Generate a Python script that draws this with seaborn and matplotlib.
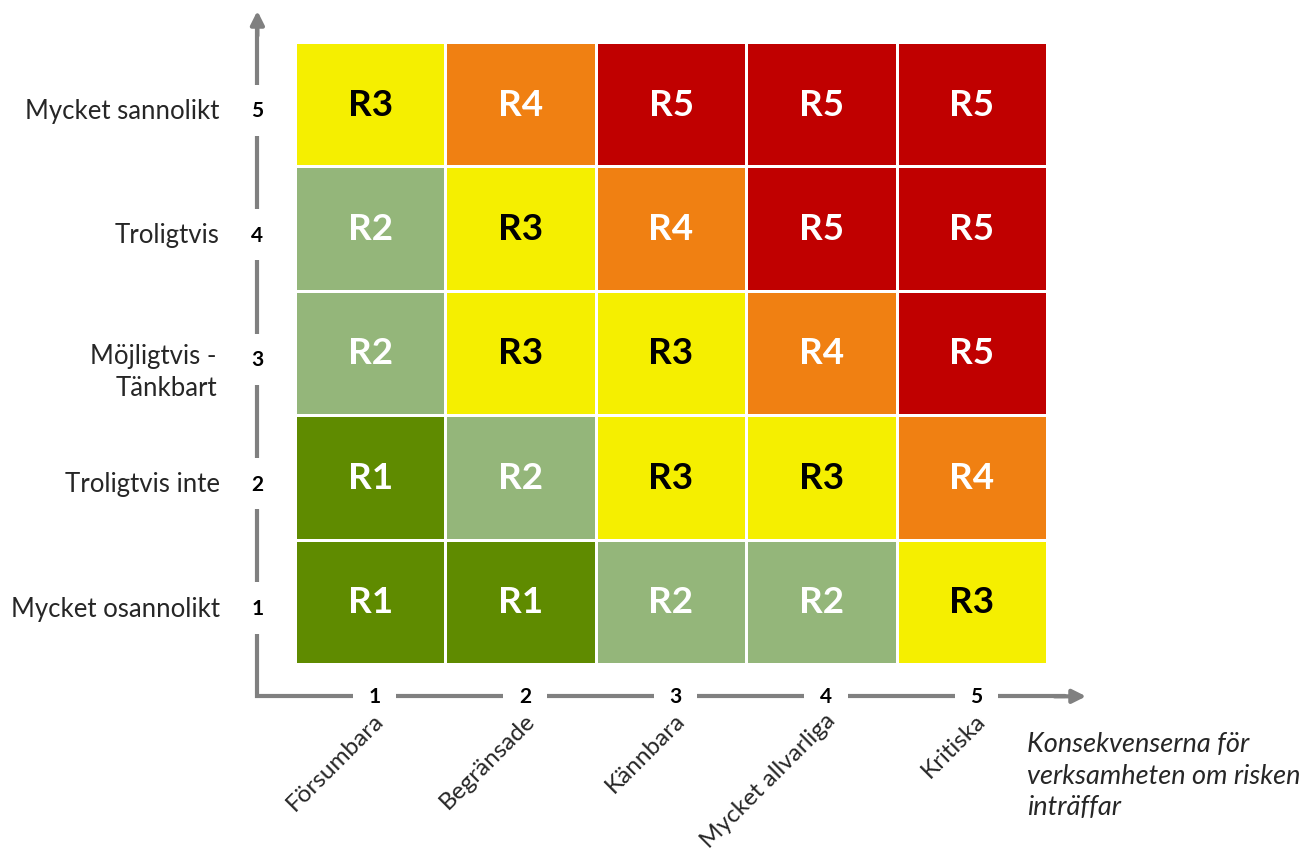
import numpy as np
import matplotlib
matplotlib.use("Agg")
import matplotlib.pyplot as plt
import seaborn as sns
from matplotlib.colors import ListedColormap

# -----------------------------
# Data
# -----------------------------
likelihood_labels = ["Mycket sannolikt", "Troligtvis", "Möjligtvis -\nTänkbart",
                     "Troligtvis inte", "Mycket osannolikt"]
likelihood_nums = [5, 4, 3, 2, 1]

consequence_labels = ["Försumbara", "Begränsade", "Kännbara",
                      "Mycket allvarliga", "Kritiska"]
consequence_nums = [1, 2, 3, 4, 5]

# risk level per cell, rows top (5) to bottom (1)
risk_levels = np.array([
    [3, 4, 5, 5, 5],
    [2, 3, 4, 5, 5],
    [2, 3, 3, 4, 5],
    [1, 2, 3, 3, 4],
    [1, 1, 2, 2, 3],
])

level_colors = ["#5f8b00", "#94b67a", "#f5ef00", "#f08012", "#c00000"]

x_title = "Konsekvenserna för\nverksamheten om risken\ninträffar"

# -----------------------------
# Plot
# -----------------------------
sns.set_style("white")
plt.rcParams["font.family"] = ["Lato", "DejaVu Sans"]

fig = plt.figure(figsize=(13.13, 8.62), dpi=100)
ax = fig.add_axes([295 / 1313, 1 - 665 / 862, 752 / 1313, 622 / 862])

annot = np.array([[f"R{v}" for v in row] for row in risk_levels])

sns.heatmap(
    risk_levels,
    ax=ax,
    cmap=ListedColormap(level_colors),
    vmin=0.5,
    vmax=5.5,
    cbar=False,
    annot=annot,
    fmt="",
    linewidths=2,
    linecolor="white",
    annot_kws={"fontsize": 26.5, "fontweight": "bold"},
)

for t in ax.texts:
    t.set_color("black" if t.get_text() == "R3" else "white")

ax.set_xticks([])
ax.set_yticks([])
ax.set_xlabel("")
ax.set_ylabel("")

# axis lines with arrows
axis_color = "#808080"
x0 = -0.25
y0 = 5.26
ax.plot([x0, x0, 5.12], [-0.12, y0, y0], color=axis_color, lw=3,
        clip_on=False, solid_joinstyle="miter", zorder=1)
ax.annotate("", xy=(x0, -0.25), xytext=(x0, -0.05), xycoords="data",
            arrowprops=dict(arrowstyle="-|>", color=axis_color, lw=3,
                            mutation_scale=20, shrinkA=0, shrinkB=0),
            annotation_clip=False)
ax.annotate("", xy=(5.26, y0), xytext=(5.05, y0), xycoords="data",
            arrowprops=dict(arrowstyle="-|>", color=axis_color, lw=3,
                            mutation_scale=20, shrinkA=0, shrinkB=0),
            annotation_clip=False)

# y axis numbers and labels
for i, (num, lab) in enumerate(zip(likelihood_nums, likelihood_labels)):
    yc = i + 0.55
    ax.text(x0, yc, str(num), ha="center", va="center", fontsize=15,
            fontweight="bold", color="black", clip_on=False,
            bbox=dict(boxstyle="square,pad=0.75", fc="white", ec="none"))
    if "\n" in lab:
        ax.text(-0.52, yc - 0.13, lab, ha="right", va="top", fontsize=18.5,
                multialignment="right", linespacing=1.35, clip_on=False)
    else:
        ax.text(-0.5, yc, lab, ha="right", va="center", fontsize=18.5,
                clip_on=False)

# x axis numbers and labels
for j, (num, lab) in enumerate(zip(consequence_nums, consequence_labels)):
    xc = j + 0.5
    ax.text(xc + 0.03, y0, str(num), ha="center", va="center", fontsize=15,
            fontweight="bold", color="black", clip_on=False,
            bbox=dict(boxstyle="square,pad=0.75", fc="white", ec="none"))
    ax.text(xc + 0.02, y0 + 0.1, lab, ha="right", va="top", rotation=45,
            rotation_mode="anchor", fontsize=17.5, clip_on=False)

ax.text(4.87, y0 + 0.28, x_title, ha="left", va="top", fontsize=19.5,
        style="italic", linespacing=1.32, clip_on=False)

fig.savefig("out.png", dpi=100)
plt.close(fig)
